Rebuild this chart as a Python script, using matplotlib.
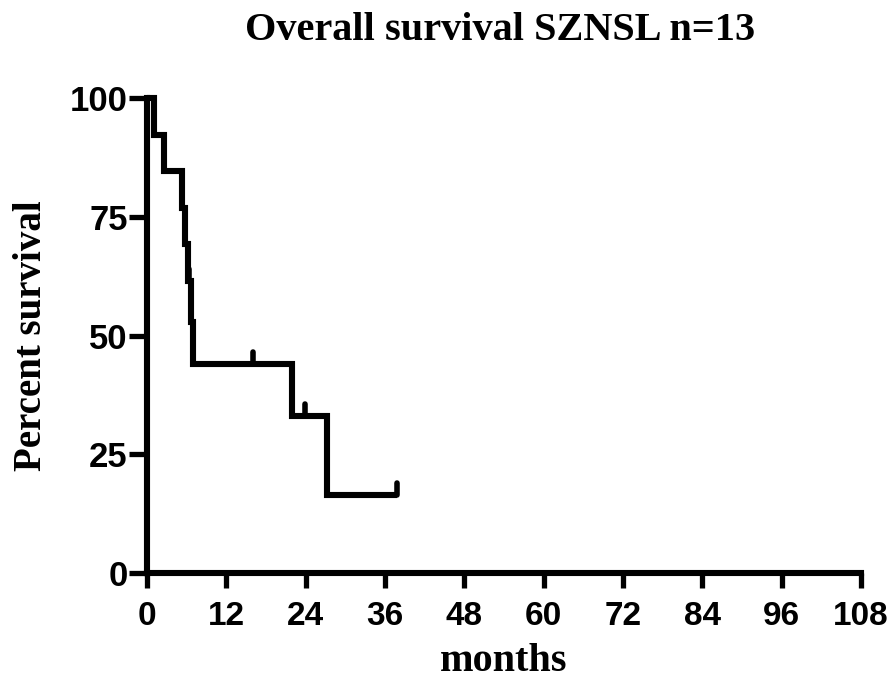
import numpy as np
import matplotlib
matplotlib.use('Agg')
import matplotlib.pyplot as plt
from matplotlib.path import Path
from matplotlib.markers import MarkerStyle

# follow-up in months, 1 = death, 0 = censored
times = [1.0, 2.6, 5.3, 5.7, 6.2, 6.4, 6.6, 7.0, 16.0, 21.9, 23.9, 27.2, 37.8]
events = [1, 1, 1, 1, 1, 0, 1, 1, 0, 1, 0, 1, 0]
xticks = [0, 12, 24, 36, 48, 60, 72, 84, 96, 108]
yticks = [0, 25, 50, 75, 100]
title = 'Overall survival SZNSL n=13'


def kaplan_meier(t, e):
    t = np.asarray(t, float)
    e = np.asarray(e, int)
    order = np.argsort(t, kind='stable')
    t, e = t[order], e[order]
    at_risk = len(t)
    s = 100.0
    xs, ys = [0.0], [100.0]
    cens_x, cens_y = [], []
    for ti, ei in zip(t, e):
        if ei:
            s = s * (at_risk - 1) / at_risk
            xs.append(ti)
            ys.append(s)
        else:
            cens_x.append(ti)
            cens_y.append(s)
        at_risk -= 1
    xs.append(t.max())
    ys.append(s)
    return xs, ys, cens_x, cens_y


xs, ys, cx, cy = kaplan_meier(times, events)

serif = ['Liberation Serif', 'DejaVu Serif']
sans = ['Liberation Sans Narrow', 'Liberation Sans', 'DejaVu Sans']

fig = plt.figure(figsize=(8.94, 6.84), dpi=100)
ax = fig.add_axes([0.1644, 0.1623, 0.7987, 0.6944])

lw = 4.4
ax.step(xs, ys, where='post', color='black', lw=lw, clip_on=False,
        solid_joinstyle='miter', solid_capstyle='butt', zorder=3)

tick = MarkerStyle(Path([(0, 0), (0, 1)]), capstyle='round')
ax.plot(cx, cy, ls='none', marker=tick, markersize=17, mew=4.0,
        color='black', clip_on=False, zorder=4)

ax.set_xlim(0, 108)
ax.set_ylim(0, 100)
ax.set_xticks(xticks)
ax.set_yticks(yticks)

for side in ['top', 'right']:
    ax.spines[side].set_visible(False)
for side in ['left', 'bottom']:
    ax.spines[side].set_linewidth(lw)
    ax.spines[side].set_capstyle('projecting')

ax.tick_params(axis='x', direction='out', width=3.8, length=11, pad=9)
ax.tick_params(axis='y', direction='out', width=3.8, length=13, pad=1)
for lab in ax.get_xticklabels() + ax.get_yticklabels():
    lab.set_fontfamily(sans)
    lab.set_fontweight('bold')
    lab.set_fontsize(24)
for lab in ax.get_yticklabels():
    lab.set_fontsize(25)

fig.text(500 / 894, 1 - 30 / 684, title,
         fontfamily=serif, fontweight='bold', fontsize=29,
         ha='center', va='center')
ax.set_xlabel('months', fontfamily=serif, fontweight='bold', fontsize=29)
ax.xaxis.set_label_coords(0.5, -0.147)
ax.set_ylabel('Percent survival', fontfamily=serif, fontweight='bold',
              fontsize=28)
ax.yaxis.set_label_coords(-0.1365, 0.5)

fig.savefig('out.png', dpi=100)
